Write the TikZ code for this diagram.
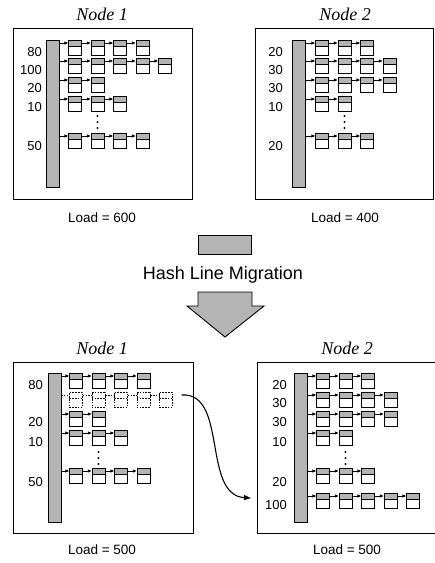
\documentclass[tikz,border=0pt]{standalone}
\usepackage{fontspec}
\setmainfont{Liberation Serif}
\setsansfont{Liberation Sans}
\usetikzlibrary{calc, positioning, arrows.meta}
\definecolor{hashgray}{RGB}{180, 180, 180}

\tikzset{
  cell/.style={draw, fill=white, line width=0.7pt, inner sep=0pt, anchor=north west,
    minimum width=13pt, minimum height=15pt,
    path picture={\fill[hashgray] (path picture bounding box.north west) rectangle ([yshift=-6pt]path picture bounding box.north east);
      \draw[line width=0.7pt] ([yshift=-6pt]path picture bounding box.north west) -- ([yshift=-6pt]path picture bounding box.north east);}},
  ghost/.style={draw, dashed, dash pattern=on 1.6pt off 1.2pt, line width=0.7pt, inner sep=0pt, anchor=north west,
    minimum width=13pt, minimum height=15pt,
    path picture={\draw[dashed, dash pattern=on 1.6pt off 1.2pt, line width=0.7pt] ([yshift=-6pt]path picture bounding box.north west) -- ([yshift=-6pt]path picture bounding box.north east);}},
  link/.style={-{Triangle[length=3.6pt, width=3pt]}, line width=0.7pt},
  ghostlink/.style={dashed, dash pattern=on 1.6pt off 1.2pt, line width=0.7pt},
  bar/.style={draw, fill=hashgray, line width=0.7pt, inner sep=0pt, anchor=north west, minimum width=13pt},
  panel/.style={draw, line width=1.3pt, inner sep=0pt, anchor=north west},
  rowlabel/.style={anchor=east, inner sep=0pt, font=\sffamily\fontsize{13}{13}\selectfont},
  title/.style={font=\itshape\fontsize{18}{18}\selectfont},
  load/.style={font=\sffamily\fontsize{13.5}{13.5}\selectfont},
}

% one hash line: name, bar edge, first cell x, row top, cells
\newcommand{\hashrow}[5]{%
  \coordinate (#1-s) at (#2, #4+3);
  \foreach \c in {1,...,#5}
    \node[cell] (#1-\c) at ({#3+22.5*(\c-1)}, #4) {};
  \draw[link] (#1-s) -- ([yshift=-3pt]#1-1.north west);
  \foreach \c [count=\p] in {2,...,#5}
    \draw[link] ([yshift=-3pt]#1-\p.north east) -- ([yshift=-3pt]#1-\c.north west);
}
\newcommand{\ghostrow}[5]{%
  \coordinate (#1-s) at (#2, #4+3);
  \foreach \c in {1,...,#5}
    \node[ghost] (#1-\c) at ({#3+22.5*(\c-1)}, #4) {};
  \draw[ghostlink] (#1-s) -- ([yshift=-3pt]#1-1.north west);
  \foreach \c [count=\p] in {2,...,#5}
    \draw[ghostlink] ([yshift=-3pt]#1-\p.north east) -- ([yshift=-3pt]#1-\c.north west);
}
\newcommand{\chaindots}[2]{%
  \foreach \d in {0,6,12}
    \fill (#1, #2+\d) circle (1.2);
}

\begin{document}
\begin{tikzpicture}[x=1pt, y=-1pt]
  \useasboundingbox (0,0) rectangle (435,563);

  % Node 1, before
  \node[title] (tltitle) at (102,14) {Node 1};
  \node[panel, minimum width=179pt, minimum height=171pt] (tlbox) at (13,28) {};
  \node[bar, minimum height=147pt] (tlbar) at (46,40) {};
  \hashrow{tl1}{59}{68}{40}{4}
  \hashrow{tl2}{59}{68}{58}{5}
  \hashrow{tl3}{59}{68}{77}{2}
  \hashrow{tl4}{59}{68}{96}{3}
  \hashrow{tl5}{59}{68}{133}{4}
  \chaindots{97.5}{116}
  \node[rowlabel] (tll1) at (42,52) {80};
  \node[rowlabel] (tll2) at (42,70) {100};
  \node[rowlabel] (tll3) at (42,88) {20};
  \node[rowlabel] (tll4) at (42,107) {10};
  \node[rowlabel] (tll5) at (42,146) {50};
  \node[load] (tlload) at (102,218) {Load = 600};

  % Node 2, before
  \node[title] (trtitle) at (345,14) {Node 2};
  \node[panel, minimum width=178pt, minimum height=171pt] (trbox) at (255,28) {};
  \node[bar, minimum height=147pt] (trbar) at (292,40) {};
  \hashrow{tr1}{305}{315}{40}{3}
  \hashrow{tr2}{305}{315}{58}{4}
  \hashrow{tr3}{305}{315}{77}{4}
  \hashrow{tr4}{305}{315}{96}{2}
  \hashrow{tr5}{305}{315}{133}{3}
  \chaindots{344.5}{116}
  \node[rowlabel] (trl1) at (283,52) {20};
  \node[rowlabel] (trl2) at (283,70) {30};
  \node[rowlabel] (trl3) at (283,88) {30};
  \node[rowlabel] (trl4) at (283,107) {10};
  \node[rowlabel] (trl5) at (283,146) {20};
  \node[load] (trload) at (345,218) {Load = 400};

  % migration step
  \node[draw, fill=hashgray, line width=0.7pt, minimum width=53pt, minimum height=19pt, inner sep=0pt] (hline) at (224.5,244.5) {};
  \node[font=\sffamily\fontsize{18}{18}\selectfont] (migtext) at (223,275) {Hash Line Migration};
  \draw[fill=hashgray, line width=0.9pt] (198,292) -- (252,292) -- (252,306) -- (264,306) -- (225,337)
    -- (187,306) -- (198,306) -- cycle;

  % Node 1, after
  \node[title] (bltitle) at (102,348) {Node 1};
  \node[panel, minimum width=180pt, minimum height=171pt] (blbox) at (13,362) {};
  \node[bar, minimum height=149pt] (blbar) at (48,373) {};
  \hashrow{bl1}{61}{69}{373}{4}
  \ghostrow{bl2}{61}{69}{392}{5}
  \hashrow{bl3}{61}{69}{411}{2}
  \hashrow{bl4}{61}{69}{430}{3}
  \hashrow{bl5}{61}{69}{468}{4}
  \chaindots{98.5}{452}
  \node[rowlabel] (bll1) at (43,385) {80};
  \node[rowlabel] (bll3) at (43,422) {20};
  \node[rowlabel] (bll4) at (43,442) {10};
  \node[rowlabel] (bll5) at (43,482) {50};
  \node[load] (blload) at (102,550) {Load = 500};

  % Node 2, after
  \node[title] (brtitle) at (347,348) {Node 2};
  \node[panel, minimum width=182pt, minimum height=171pt] (brbox) at (257,362) {};
  \node[bar, minimum height=149pt] (brbar) at (294,373) {};
  \hashrow{br1}{307}{316}{373}{3}
  \hashrow{br2}{307}{316}{392}{4}
  \hashrow{br3}{307}{316}{411}{4}
  \hashrow{br4}{307}{316}{430}{2}
  \hashrow{br5}{307}{316}{468}{3}
  \hashrow{br6}{307}{316}{493}{5}
  \chaindots{345.5}{452}
  \node[rowlabel] (brl1) at (287,385) {20};
  \node[rowlabel] (brl2) at (287,403) {30};
  \node[rowlabel] (brl3) at (287,422) {30};
  \node[rowlabel] (brl4) at (287,442) {10};
  \node[rowlabel] (brl5) at (287,482) {20};
  \node[rowlabel] (brl6) at (287,505) {100};
  \node[load] (brload) at (347,550) {Load = 500};

  % moved line
  \coordinate (migs) at ([xshift=9pt, yshift=-3pt]bl2-5.north east);
  \coordinate (mige) at (251,498);
  \draw[-{Triangle[length=7pt, width=5pt]}, line width=1.1pt] (migs) .. controls (228,392) and (202,495) .. (mige);
\end{tikzpicture}
\end{document}
